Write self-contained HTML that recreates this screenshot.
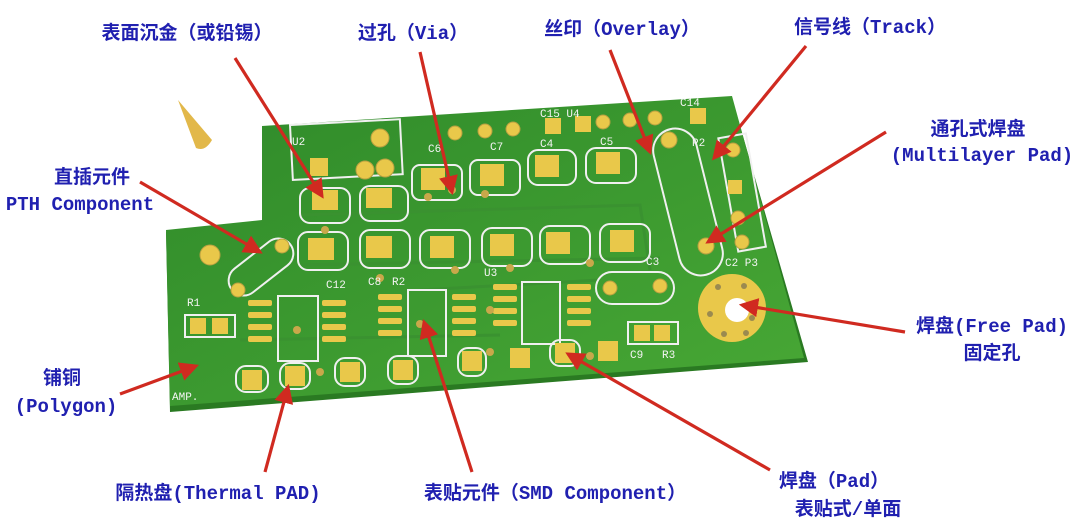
<!DOCTYPE html>
<html><head><meta charset="utf-8"><style>
html,body{margin:0;padding:0;background:#fff;width:1080px;height:530px;overflow:hidden}
svg{display:block}
.t{font-family:"Liberation Mono","Noto Sans CJK SC",monospace;font-weight:bold;fill:#2020b0;font-size:19px}
.s{font-family:"Liberation Mono",monospace;fill:#f4f4f4;font-size:11px}
</style></head><body>
<svg width="1080" height="530" viewBox="0 0 1080 530" xmlns="http://www.w3.org/2000/svg">
<defs>
<marker id="ah" markerWidth="6" markerHeight="6" refX="5" refY="3" orient="auto" markerUnits="strokeWidth"><path d="M0,0 L6,3 L0,6 z" fill="#d02a20"/></marker>
<linearGradient id="g" x1="0" y1="0" x2="1" y2="1"><stop offset="0" stop-color="#2f8a2a"/><stop offset="1" stop-color="#48a835"/></linearGradient>
</defs>
<path d="M178,100 L212,140 Q205,152 196,148 Z" fill="#e2b84a"/>
<path d="M262,128 L732,98 L808,362 L170,412 L166,232 L262,222 Z" fill="#2a7a22"/>
<path d="M262,126 L732,96 L804,358 L170,406 L166,230 L262,220 Z" fill="url(#g)"/>
<g stroke="#3a9230" stroke-width="3" fill="none">
<path d="M300,215 L640,205 L650,270"/><path d="M300,265 L660,258"/><path d="M420,290 L600,280"/><path d="M240,340 L500,335"/>
</g>
<g stroke="#f0f0f0" stroke-width="2" fill="none">
<rect x="290" y="125" width="110" height="55" transform="rotate(-3 290 125)"/>
<rect x="300" y="188" width="50" height="35" rx="10"/><rect x="360" y="186" width="48" height="35" rx="10"/>
<rect x="412" y="165" width="50" height="35" rx="8"/><rect x="470" y="160" width="50" height="35" rx="8"/>
<rect x="528" y="150" width="48" height="35" rx="10"/><rect x="586" y="148" width="50" height="35" rx="10"/>
<rect x="298" y="232" width="50" height="38" rx="10"/><rect x="360" y="230" width="50" height="38" rx="10"/>
<rect x="420" y="230" width="50" height="38" rx="10"/><rect x="482" y="228" width="50" height="38" rx="10"/>
<rect x="540" y="226" width="50" height="38" rx="10"/><rect x="600" y="224" width="50" height="38" rx="10"/>
<rect x="666" y="127" width="44" height="150" rx="22" transform="rotate(-14 688 202)"/>
<rect x="596" y="272" width="78" height="32" rx="16"/>
<rect x="224" y="252" width="74" height="30" rx="15" transform="rotate(-38 261 267)"/>
<rect x="278" y="296" width="40" height="65"/><rect x="408" y="290" width="38" height="66"/><rect x="522" y="282" width="38" height="62"/>
<rect x="185" y="315" width="50" height="22"/><rect x="628" y="322" width="50" height="22"/>
<rect x="728" y="135" width="28" height="115" transform="rotate(-10 742 192)"/>
<rect x="236" y="366" width="32" height="26" rx="10"/><rect x="280" y="363" width="30" height="26" rx="10"/>
<rect x="335" y="358" width="30" height="28" rx="10"/><rect x="388" y="356" width="30" height="28" rx="10"/>
<rect x="458" y="348" width="28" height="28" rx="10"/><rect x="550" y="340" width="30" height="26" rx="10"/>
</g>
<g fill="#e9c84a">
<rect x="312" y="190" width="26" height="20"/><rect x="366" y="188" width="26" height="20"/>
<rect x="421" y="168" width="24" height="22"/><rect x="480" y="164" width="24" height="22"/>
<rect x="535" y="155" width="24" height="22"/><rect x="596" y="152" width="24" height="22"/>
<rect x="308" y="238" width="26" height="22"/><rect x="366" y="236" width="26" height="22"/>
<rect x="430" y="236" width="24" height="22"/><rect x="490" y="234" width="24" height="22"/>
<rect x="546" y="232" width="24" height="22"/><rect x="610" y="230" width="24" height="22"/>
<rect x="242" y="370" width="20" height="20"/><rect x="285" y="366" width="20" height="20"/>
<rect x="340" y="362" width="20" height="20"/><rect x="393" y="360" width="20" height="20"/>
<rect x="462" y="351" width="20" height="20"/><rect x="510" y="348" width="20" height="20"/>
<rect x="555" y="343" width="20" height="20"/><rect x="598" y="341" width="20" height="20"/>
<rect x="190" y="318" width="16" height="16"/><rect x="212" y="318" width="16" height="16"/>
<rect x="634" y="325" width="16" height="16"/><rect x="654" y="325" width="16" height="16"/>
<rect x="310" y="158" width="18" height="18"/><rect x="545" y="118" width="16" height="16"/><rect x="575" y="116" width="16" height="16"/>
<rect x="690" y="108" width="16" height="16"/><rect x="728" y="180" width="14" height="14"/>
<g id="ic"><rect x="248" y="300" width="24" height="6" rx="2"/><rect x="248" y="312" width="24" height="6" rx="2"/><rect x="248" y="324" width="24" height="6" rx="2"/><rect x="248" y="336" width="24" height="6" rx="2"/><rect x="322" y="300" width="24" height="6" rx="2"/><rect x="322" y="312" width="24" height="6" rx="2"/><rect x="322" y="324" width="24" height="6" rx="2"/><rect x="322" y="336" width="24" height="6" rx="2"/></g>
<use href="#ic" transform="translate(130,-6)"/><use href="#ic" transform="translate(245,-16)"/>
</g>
<g fill="#e9c84a" stroke="#b8a040" stroke-width="1">
<circle cx="380" cy="138" r="9"/><circle cx="365" cy="170" r="9"/><circle cx="385" cy="168" r="9"/>
<circle cx="455" cy="133" r="7"/><circle cx="485" cy="131" r="7"/><circle cx="513" cy="129" r="7"/>
<circle cx="603" cy="122" r="7"/><circle cx="630" cy="120" r="7"/><circle cx="655" cy="118" r="7"/>
<circle cx="669" cy="140" r="8"/><circle cx="706" cy="246" r="8"/>
<circle cx="210" cy="255" r="10"/><circle cx="282" cy="246" r="7"/><circle cx="238" cy="290" r="7"/>
<circle cx="610" cy="288" r="7"/><circle cx="660" cy="286" r="7"/>
<circle cx="733" cy="150" r="7"/><circle cx="738" cy="218" r="7"/><circle cx="742" cy="242" r="7"/>
</g>
<g fill="#c9a84a"><circle cx="452" cy="190" r="4"/><circle cx="428" cy="197" r="4"/><circle cx="485" cy="194" r="4"/><circle cx="325" cy="230" r="4"/><circle cx="380" cy="278" r="4"/><circle cx="455" cy="270" r="4"/><circle cx="510" cy="268" r="4"/><circle cx="590" cy="263" r="4"/><circle cx="297" cy="330" r="4"/><circle cx="420" cy="324" r="4"/><circle cx="490" cy="310" r="4"/><circle cx="320" cy="372" r="4"/><circle cx="590" cy="356" r="4"/><circle cx="490" cy="352" r="4"/></g>
<circle cx="732" cy="308" r="34" fill="#e9c84a"/><circle cx="737" cy="310" r="12" fill="#fff"/>
<g fill="#9a8a50"><circle cx="718" cy="287" r="3"/><circle cx="744" cy="286" r="3"/><circle cx="710" cy="314" r="3"/><circle cx="752" cy="318" r="3"/><circle cx="724" cy="334" r="3"/><circle cx="746" cy="333" r="3"/></g>
<g class="s">
<text x="292" y="145">U2</text><text x="428" y="152">C6</text><text x="490" y="150">C7</text><text x="540" y="147">C4</text><text x="600" y="145">C5</text>
<text x="540" y="117">C15 U4</text><text x="680" y="106">C14</text><text x="692" y="146">P2</text>
<text x="326" y="288">C12</text><text x="368" y="285">C8</text><text x="392" y="285">R2</text><text x="484" y="276">U3</text>
<text x="646" y="265">C3</text><text x="725" y="266">C2 P3</text><text x="187" y="306">R1</text>
<text x="630" y="358">C9</text><text x="662" y="358">R3</text><text x="172" y="400">AMP.</text>
</g>
<g stroke="#d02a20" stroke-width="3.2" fill="none" marker-end="url(#ah)">
<line x1="235" y1="58" x2="322" y2="196"/>
<line x1="420" y1="52" x2="452" y2="192"/>
<line x1="610" y1="50" x2="650" y2="152"/>
<line x1="806" y1="46" x2="714" y2="158"/>
<line x1="886" y1="132" x2="708" y2="242"/>
<line x1="140" y1="182" x2="260" y2="252"/>
<line x1="905" y1="332" x2="742" y2="305"/>
<line x1="120" y1="394" x2="196" y2="366"/>
<line x1="265" y1="472" x2="288" y2="387"/>
<line x1="472" y1="472" x2="424" y2="322"/>
<line x1="770" y1="470" x2="568" y2="354"/>
</g>
<g class="t" text-anchor="middle">
<text x="187" y="39">表面沉金（或铅锡）</text>
<text x="413" y="39">过孔（Via）</text>
<text x="622" y="35">丝印（Overlay）</text>
<text x="870" y="33">信号线（Track）</text>
<text x="978" y="135">通孔式焊盘</text>
<text x="982" y="161">(Multilayer Pad)</text>
<text x="92" y="183">直插元件</text>
<text x="80" y="210">PTH Component</text>
<text x="992" y="332">焊盘(Free Pad)</text>
<text x="992" y="359">固定孔</text>
<text x="62" y="384">铺铜</text>
<text x="66" y="412">(Polygon)</text>
<text x="218" y="499">隔热盘(Thermal PAD)</text>
<text x="555" y="499">表贴元件（SMD Component）</text>
<text x="834" y="487">焊盘（Pad）</text>
<text x="848" y="515">表贴式/单面</text>
</g>
</svg>
</body></html>
